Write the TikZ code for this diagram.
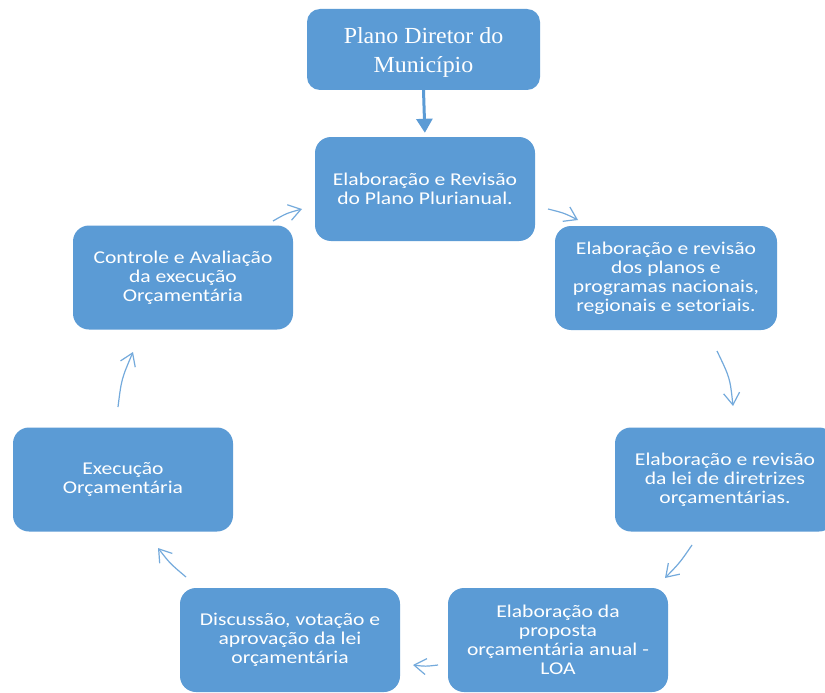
\documentclass[tikz,border=0pt]{standalone}
\usepackage{fontspec}
\setmainfont{Carlito}
\newfontfamily\boxfont[FakeStretch=1.2]{Carlito}
\newfontfamily\titlefont[FakeStretch=1.04]{Liberation Serif}
\usetikzlibrary{arrows.meta}
\definecolor{boxblue}{HTML}{5B9BD5}
\definecolor{arrowblue}{HTML}{74AADC}

\begin{document}
\begin{tikzpicture}[x=1pt,y=-1pt,
  stage/.style={fill=boxblue, rounded corners=16pt, minimum width=220pt,
    minimum height=104pt, inner sep=0pt, text=white, align=center,
    font=\boxfont\fontsize{18}{19}\selectfont},
  titlebox/.style={fill=boxblue, rounded corners=13pt, minimum width=233pt,
    minimum height=81pt, inner sep=0pt, text=white, align=center,
    font=\titlefont\fontsize{23}{29}\selectfont},
  feed/.style={draw=boxblue, line width=3pt,
    -{Triangle[length=14pt,width=16pt]}},
  cycle/.style={draw=arrowblue, line width=1.2pt,
    -{Straight Barb[length=12pt,width=16pt]}}
]
\useasboundingbox (0,0) rectangle (825,693);
\fill[white] (0,0) rectangle (825,693);

% stages of the budget cycle
\node[titlebox] (pd) at (423.5,49.5) {};
\node[titlebox, fill=none, yshift=-2.5pt] (pdtext) at (pd.center) {Plano Diretor do\\Município};
\node[stage] (ppa) at (425,189) {Elaboração e Revisão\\do Plano Plurianual.};
\node[stage, minimum width=222pt] (pn) at (666,278)
  {Elaboração e revisão\\dos planos e\\programas nacionais,\\regionais e setoriais.};
\node[stage] (ldo) at (725,479.5)
  {Elaboração e revisão\\da lei de diretrizes\\orçamentárias.};
\node[stage] (loa) at (558,640)
  {Elaboração da\\proposta\\orçamentária anual -\\LOA};
\node[stage] (disc) at (290,640)
  {Discussão, votação e\\aprovação da lei\\orçamentária};
\node[stage] (exec) at (123,479.5) {Execução\\Orçamentária};
\node[stage] (ctrl) at (183,277.5)
  {Controle e Avaliação\\da execução\\Orçamentária};

% plan feeds the multi-year plan
\draw[feed, shorten >=4pt] (pd.south) -- (ppa.north);

% ends of the cycle arrows
\coordinate (a1s) at (548,209); \coordinate (a1e) at (578,220);
\coordinate (a2s) at (717,351); \coordinate (a2e) at (733,406);
\coordinate (a3s) at (692,545); \coordinate (a3e) at (665,578);
\coordinate (a4s) at (438,665); \coordinate (a4e) at (413,665);
\coordinate (a5s) at (186,577); \coordinate (a5e) at (158,548);
\coordinate (a6s) at (118,407); \coordinate (a6e) at (133,352);
\coordinate (a7s) at (273,221); \coordinate (a7e) at (302,209);

\draw[cycle] (a1s) .. controls (564,213) .. (a1e);
\draw[cycle] (a2s) .. controls (730,378) .. (a2e);
\draw[cycle] (a3s) .. controls (680,562.5) .. (a3e);
\draw[cycle] (a4s) .. controls (425.5,666.5) .. (a4e);
\draw[cycle] (a5s) .. controls (170,563.5) .. (a5e);
\draw[cycle] (a6s) .. controls (121.5,379) .. (a6e);
\draw[cycle] (a7s) .. controls (286.4,213.3) .. (a7e);
\end{tikzpicture}
\end{document}
